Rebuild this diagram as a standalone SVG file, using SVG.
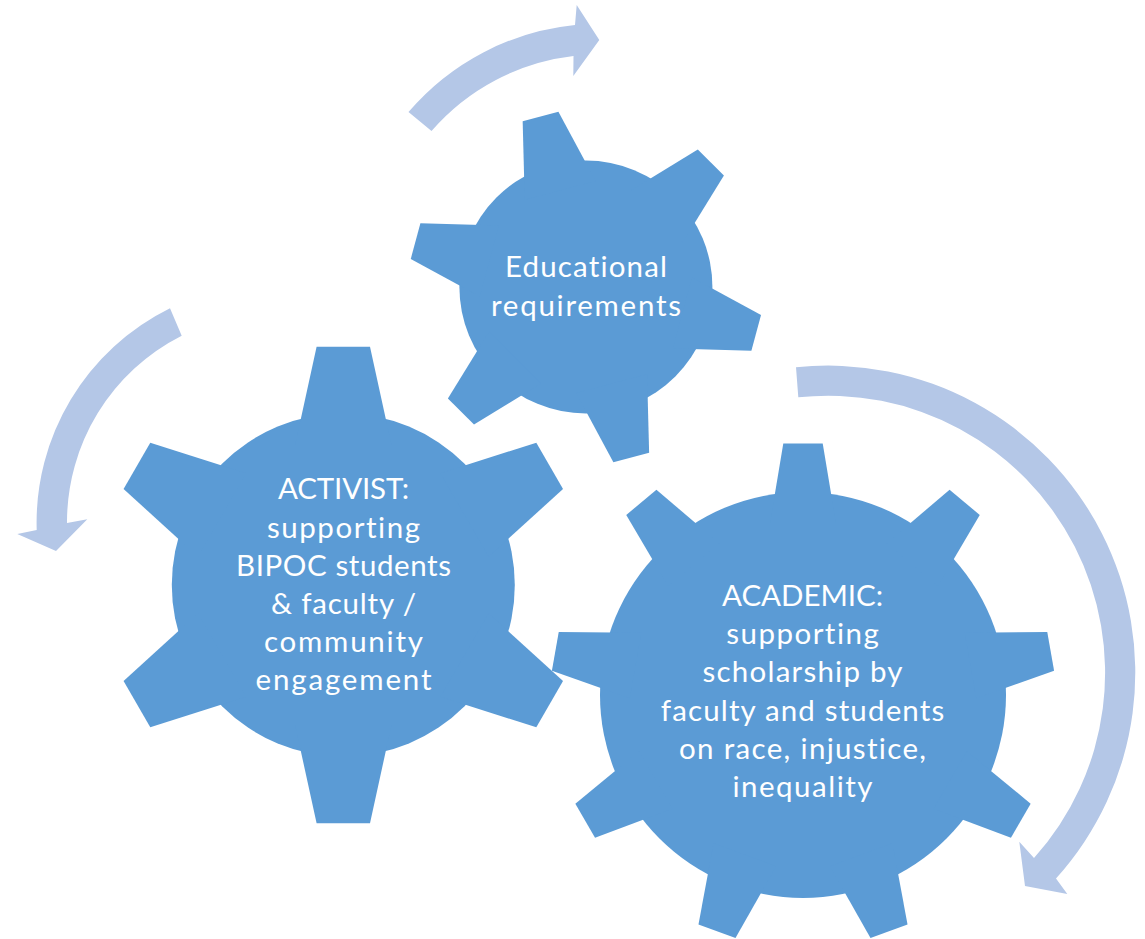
<svg xmlns="http://www.w3.org/2000/svg" xmlns:xlink="http://www.w3.org/1999/xlink" width="1145" height="939" viewBox="0 0 1145 939">
<style>
.gear{fill:#5B9BD5}
.arrow{fill:#B4C7E7}
.lbl{font-family:Lato,"Open Sans","Liberation Sans",sans-serif;font-size:29.5px;fill:#FFFFFF;text-anchor:middle;font-variant-ligatures:none}
</style>
<defs>
<polygon id="t1" points="-26.7,-238.3 26.7,-238.3 48.2,-140 -48.2,-140"/>
<polygon id="t2" points="-18.5,-176.4 18.5,-176.4 36.7,-100 -36.7,-100"/>
<polygon id="t3" points="-19.7,-251.5 19.7,-251.5 33.3,-170 -33.3,-170"/>
</defs>
<rect width="1145" height="939" fill="#FFFFFF"/>
<g id="connectors">
<path class="arrow" d="M408.5,112 A252,252 0 0 1 575,25 L576.7,5 L599.3,40 L573.3,76 L573.5,56 A222,222 0 0 0 431.5,131 Z"/>
<path class="arrow" d="M170,308.3 A239,239 0 0 0 36.7,530 L17.3,534 L56,551 L87.3,519.3 L67,523 A209,209 0 0 1 181.7,335.7 Z"/>
<path class="arrow" d="M796,367.3 A307,307 0 0 1 1056,878.5 L1067.3,894 L1025,886 L1019.3,841.7 L1034,858 A277,277 0 0 0 798.3,397.3 Z"/>
</g>
<g id="gear-activist" class="gear">
<g transform="translate(343.3,585)">
<circle r="171.5"/>
<use xlink:href="#t1" href="#t1"/>
<use xlink:href="#t1" href="#t1" transform="rotate(60)"/>
<use xlink:href="#t1" href="#t1" transform="rotate(120)"/>
<use xlink:href="#t1" href="#t1" transform="rotate(180)"/>
<use xlink:href="#t1" href="#t1" transform="rotate(240)"/>
<use xlink:href="#t1" href="#t1" transform="rotate(300)"/>
</g>
<text class="lbl" x="343.5" y="499.3" textLength="131">ACTIVIST:</text>
<text class="lbl" x="343.5" y="537.5" textLength="153">supporting</text>
<text class="lbl" x="343.5" y="575.7" textLength="215">BIPOC students</text>
<text class="lbl" x="343.5" y="613.9" textLength="145">&amp; faculty /</text>
<text class="lbl" x="343.5" y="652.1" textLength="159">community</text>
<text class="lbl" x="343.5" y="690.3" textLength="176">engagement</text>
</g>
<g id="gear-educational" class="gear">
<g transform="translate(585.9,287)">
<circle r="126.5"/>
<use xlink:href="#t2" href="#t2" transform="rotate(-14.9)"/>
<use xlink:href="#t2" href="#t2" transform="rotate(45.1)"/>
<use xlink:href="#t2" href="#t2" transform="rotate(105.1)"/>
<use xlink:href="#t2" href="#t2" transform="rotate(165.1)"/>
<use xlink:href="#t2" href="#t2" transform="rotate(225.1)"/>
<use xlink:href="#t2" href="#t2" transform="rotate(285.1)"/>
</g>
<text class="lbl" x="586" y="277.3" textLength="162">Educational</text>
<text class="lbl" x="586" y="315.5" textLength="190">requirements</text>
</g>
<g id="gear-academic" class="gear">
<g transform="translate(803,695)">
<circle r="203"/>
<use xlink:href="#t3" href="#t3"/>
<use xlink:href="#t3" href="#t3" transform="rotate(40)"/>
<use xlink:href="#t3" href="#t3" transform="rotate(80)"/>
<use xlink:href="#t3" href="#t3" transform="rotate(120)"/>
<use xlink:href="#t3" href="#t3" transform="rotate(160)"/>
<use xlink:href="#t3" href="#t3" transform="rotate(200)"/>
<use xlink:href="#t3" href="#t3" transform="rotate(240)"/>
<use xlink:href="#t3" href="#t3" transform="rotate(280)"/>
<use xlink:href="#t3" href="#t3" transform="rotate(320)"/>
</g>
<text class="lbl" x="802.5" y="606" textLength="161">ACADEMIC:</text>
<text class="lbl" x="802.5" y="644.2" textLength="152.5">supporting</text>
<text class="lbl" x="802.5" y="682.4" textLength="200">scholarship by</text>
<text class="lbl" x="802.5" y="720.6" textLength="283.5">faculty and students</text>
<text class="lbl" x="802.5" y="758.8" textLength="247">on race, injustice,</text>
<text class="lbl" x="802.5" y="797" textLength="140">inequality</text>
</g>
</svg>
